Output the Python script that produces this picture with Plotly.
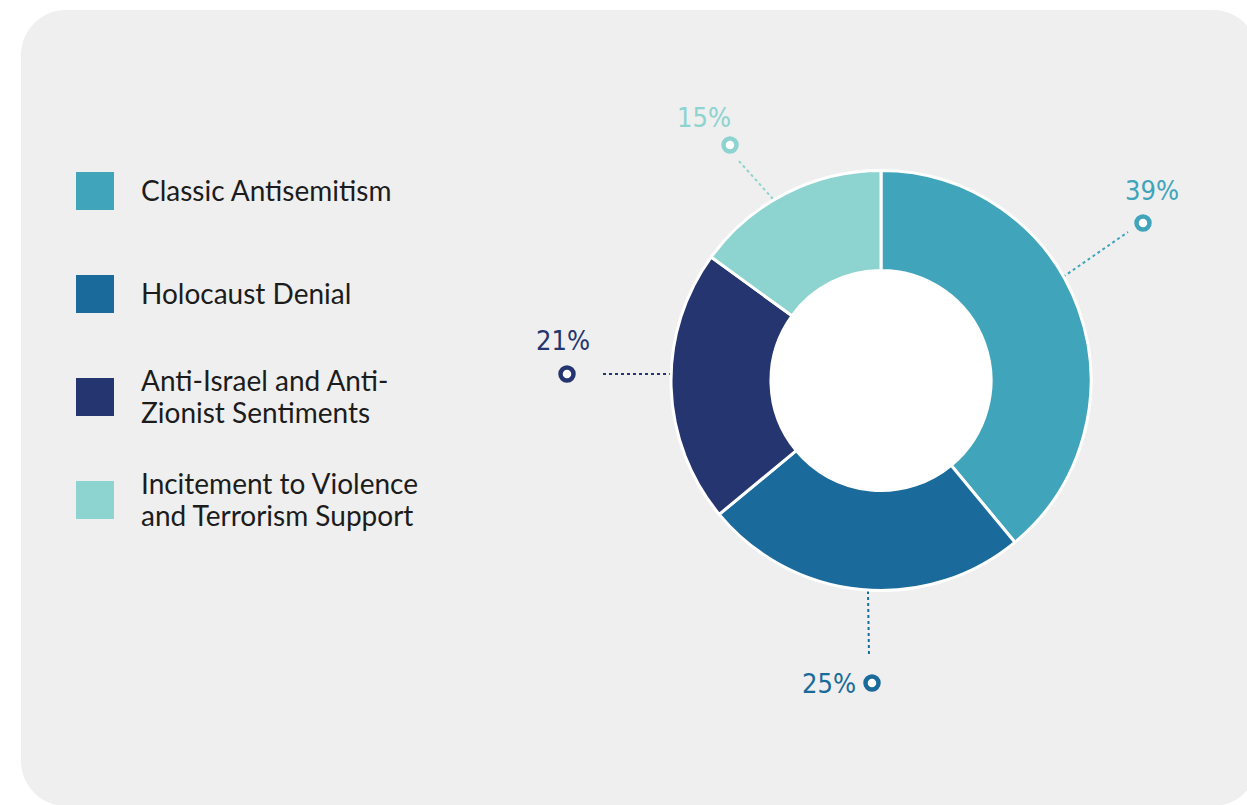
import plotly.graph_objects as go

# --- data ---------------------------------------------------------------
categories = [
    "Classic Antisemitism",
    "Holocaust Denial",
    "Anti-Israel and Anti-Zionist Sentiments",
    "Incitement to Violence and Terrorism Support",
]
legend_lines = [
    ["Classic Antisemitism"],
    ["Holocaust Denial"],
    ["Anti-Israel and Anti-", "Zionist Sentiments"],
    ["Incitement to Violence", "and Terrorism Support"],
]
shares = [39, 25, 21, 15]
colors = ["#40a4bb", "#1a6b9b", "#253570", "#8dd3cf"]

# --- canvas / geometry (pixels) -----------------------------------------
W, H = 1247, 805
CX, CY, R_OUT = 881, 380.5, 210
HOLE = 0.524
R_IN = R_OUT * HOLE

fig = go.Figure()

# donut
fig.add_trace(go.Pie(
    labels=categories,
    values=shares,
    sort=False,
    direction="clockwise",
    rotation=0,
    hole=HOLE,
    marker=dict(colors=colors, line=dict(color="white", width=3)),
    textinfo="none",
    hoverinfo="label+percent",
    showlegend=False,
    domain=dict(
        x=[(CX - R_OUT) / W, (CX + R_OUT) / W],
        y=[(H - CY - R_OUT) / H, (H - CY + R_OUT) / H],
    ),
))

# callouts: leader line start, line end, ring marker, label centre
callouts = [
    dict(p0=(1063, 277), p1=(1128, 232), ring=(1143, 223), text=(1152, 190)),
    dict(p0=(868, 591), p1=(869, 656), ring=(872, 683), text=(829, 683)),
    dict(p0=(672, 374), p1=(600, 374), ring=(567, 374), text=(563, 340)),
    dict(p0=(773, 199), p1=(738, 160), ring=(730, 145), text=(704, 117)),
]

PCT_FONT = "'DejaVu Sans Condensed', 'Liberation Sans Narrow', 'Roboto', sans-serif"

annotations = []
for share, col, c in zip(shares, colors, callouts):
    fig.add_trace(go.Scatter(
        x=[c["p0"][0], c["p1"][0]], y=[c["p0"][1], c["p1"][1]],
        mode="lines", line=dict(color=col, width=2, dash="dot"),
        hoverinfo="skip", showlegend=False,
    ))
    fig.add_trace(go.Scatter(
        x=[c["ring"][0]], y=[c["ring"][1]], mode="markers",
        marker=dict(size=13, color="white", line=dict(color=col, width=4.5)),
        hoverinfo="skip", showlegend=False,
    ))
    annotations.append(dict(
        x=c["text"][0], y=c["text"][1], xref="x", yref="y",
        text=f"{share}%", showarrow=False,
        font=dict(family=PCT_FONT, size=27, color=col),
        xanchor="center", yanchor="middle",
    ))

shapes = []

# rounded panel
x0, x1, y0, y1, r = 21, 1258, 10, 806, 45
k = 0.5523 * r
panel = (
    f"M{x0 + r},{y0} L{x1 - r},{y0} "
    f"C{x1 - r + k},{y0} {x1},{y0 + r - k} {x1},{y0 + r} "
    f"L{x1},{y1 - r} "
    f"C{x1},{y1 - r + k} {x1 - r + k},{y1} {x1 - r},{y1} "
    f"L{x0 + r},{y1} "
    f"C{x0 + r - k},{y1} {x0},{y1 - r + k} {x0},{y1 - r} "
    f"L{x0},{y0 + r} "
    f"C{x0},{y0 + r - k} {x0 + r - k},{y0} {x0 + r},{y0} Z"
)
shapes.append(dict(type="path", path=panel, xref="x", yref="y",
                   fillcolor="#efefef", line=dict(width=0), layer="below"))
# white centre of the donut
shapes.append(dict(type="circle", xref="x", yref="y",
                   x0=CX - R_IN, x1=CX + R_IN, y0=CY - R_IN, y1=CY + R_IN,
                   fillcolor="white", line=dict(width=0), layer="below"))

# legend (custom squares + labels)
LEG_X, LEG_Y0, LEG_STEP, SQ, LINE_H = 76, 172, 103, 38, 32
for i, (lines, col) in enumerate(zip(legend_lines, colors)):
    top = LEG_Y0 + i * LEG_STEP
    shapes.append(dict(type="rect", xref="x", yref="y",
                       x0=LEG_X, x1=LEG_X + SQ, y0=top, y1=top + SQ,
                       fillcolor=col, line=dict(width=0)))
    mid = top + SQ / 2 - 1
    first = mid - (len(lines) - 1) * LINE_H / 2
    for j, line in enumerate(lines):
        annotations.append(dict(
            x=LEG_X + 63, y=first + j * LINE_H, xref="x", yref="y",
            text=line, showarrow=False, align="left",
            xanchor="left", yanchor="middle",
            font=dict(family="Lato, sans-serif", size=28, color="#1c1c1c"),
        ))

fig.update_layout(
    width=W, height=H,
    margin=dict(l=0, r=0, t=0, b=0),
    paper_bgcolor="white",
    plot_bgcolor="rgba(0,0,0,0)",
    xaxis=dict(range=[0, W], visible=False, fixedrange=True, domain=[0, 1]),
    yaxis=dict(range=[H, 0], visible=False, fixedrange=True, domain=[0, 1]),
    shapes=shapes,
    annotations=annotations,
    showlegend=False,
)

fig.write_html("out.html")
